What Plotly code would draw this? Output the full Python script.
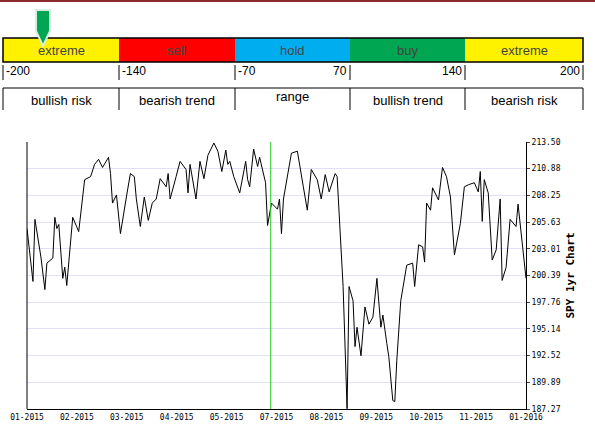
import plotly.graph_objects as go

W, H = 595, 434

# gauge data
zone_edges = [3, 119, 235, 350, 465, 583]
zone_names = ["extreme", "sell", "hold", "buy", "extreme"]
zone_colors = ["#fff200", "#ff0000", "#00aeef", "#00a651", "#fff200"]
scale_labels = ["-200", "-140", "-70", "70", "140", "200"]
meaning_labels = ["bullish risk", "bearish trend", "range", "bullish trend", "bearish risk"]

# SPY price trace (trading day index, close)
day = [0, 3, 4, 7, 9, 10, 13, 14, 15, 16, 18, 19, 20, 21, 22, 23, 26, 29, 32, 34, 36, 38, 41, 42,
       43, 45, 47, 48, 50, 52, 54, 55, 57, 59, 61, 63, 65, 67, 70, 71, 72, 75, 77, 80, 81, 82, 85,
       87, 89, 91, 94, 96, 98, 100, 101, 102, 104, 107, 109, 110, 111, 112, 114, 116, 117, 120,
       121, 123, 126, 127, 128, 129, 133, 136, 139, 141, 143, 146, 148, 150, 152, 155, 156, 157,
       159, 161, 162, 164, 165, 166, 168, 170, 172, 174, 176, 178, 179, 181, 182, 184, 185, 186,
       188, 191, 194, 195, 197, 199, 200, 201, 203, 204, 207, 209, 211, 213, 215, 218, 220, 222,
       225, 227, 228, 229, 230, 232, 234, 236, 238, 239, 241, 243, 246, 247, 249, 251]
close = [205.0, 199.8, 205.9, 202.2, 199.0, 201.6, 202.1, 206.1, 205.0, 205.4, 200.1, 201.2, 199.4,
         201.9, 204.0, 206.1, 204.7, 209.8, 210.1, 211.3, 211.8, 211.0, 212.0, 210.4, 207.5, 208.3,
         204.5, 205.8, 208.1, 210.4, 210.1, 207.9, 205.2, 208.1, 205.8, 207.5, 207.9, 209.9, 209.1,
         210.4, 207.9, 210.1, 211.6, 210.8, 208.5, 211.3, 207.9, 211.6, 209.9, 212.2, 213.4, 212.6,
         210.6, 212.7, 211.3, 211.6, 210.1, 208.5, 210.8, 211.6, 209.8, 209.1, 212.8, 211.1, 212.0,
         209.5, 205.3, 207.5, 206.9, 207.9, 204.5, 207.9, 212.4, 212.6, 209.1, 206.8, 210.8, 209.8,
         207.9, 210.3, 208.6, 210.4, 210.1, 206.2, 199.3, 187.3, 199.3, 197.9, 193.4, 195.3, 192.5,
         197.3, 195.6, 196.3, 200.1, 195.3, 196.5, 193.7, 192.4, 188.1, 188.0, 192.0, 197.9, 201.4,
         201.6, 199.3, 203.4, 203.2, 201.7, 207.5, 206.8, 209.0, 207.8, 211.0, 210.1, 208.1, 202.4,
         205.5, 209.1, 209.3, 209.5, 208.6, 210.6, 205.7, 209.8, 208.5, 201.9, 202.9, 207.9, 199.9,
         201.2, 205.9, 205.2, 207.4, 203.5, 200.1]
month_labels = ["01-2015", "02-2015", "03-2015", "04-2015", "05-2015", "07-2015", "08-2015",
                "09-2015", "10-2015", "11-2015", "01-2016"]
price_ticks = [187.27, 189.89, 192.52, 195.14, 197.76, 200.39, 203.01, 205.63, 208.25, 210.88, 213.50]
marker_day = 122.6


def px(x):
    return x / W


def py(y):
    return 1 - y / H


fig = go.Figure()
fig.add_trace(go.Scatter(x=day, y=close, mode="lines", line=dict(color="black", width=1),
                         hoverinfo="skip"))

shapes = []
annotations = []


def label(x, y, text, size=13, color="black", xanchor="center"):
    annotations.append(dict(xref="paper", yref="paper", x=px(x), y=py(y), text=text, showarrow=False,
                            xanchor=xanchor, yanchor="middle",
                            font=dict(family="Liberation Sans", size=size, color=color)))


# thin dark red strip along the top edge
shapes.append(dict(type="rect", xref="paper", yref="paper", x0=0, x1=1, y0=py(2), y1=1,
                   fillcolor="#8b2a2a", line=dict(width=0)))

# colored gauge band
for i, name in enumerate(zone_names):
    x0, x1 = zone_edges[i], zone_edges[i + 1]
    shapes.append(dict(type="rect", xref="paper", yref="paper", x0=px(x0), x1=px(x1),
                       y0=py(62), y1=py(38), fillcolor=zone_colors[i], line=dict(width=0), layer="below"))
    label((x0 + x1) / 2, 51, name, color="#444")
    label((x0 + x1) / 2, 100 if i != 2 else 97, meaning_labels[i])
shapes.append(dict(type="rect", xref="paper", yref="paper", x0=px(3), x1=px(583), y0=py(62), y1=py(38),
                   line=dict(color="black", width=1.5)))
shapes.append(dict(type="line", xref="paper", yref="paper", x0=px(3), x1=px(583), y0=py(88), y1=py(88),
                   line=dict(color="black", width=1)))
for e in zone_edges:
    shapes.append(dict(type="line", xref="paper", yref="paper", x0=px(e), x1=px(e), y0=py(65), y1=py(80),
                       line=dict(color="black", width=1)))
    shapes.append(dict(type="line", xref="paper", yref="paper", x0=px(e), x1=px(e), y0=py(88), y1=py(110),
                       line=dict(color="black", width=1)))
for i, lab in enumerate(scale_labels):
    left = i < 3
    label(zone_edges[i] + 1 if left else zone_edges[i] - 1, 71, lab, size=12,
          xanchor="left" if left else "right")

# pin marker
pin = "M {} {} L {} {} L {} {} L {} {} L {} {} L {} {} Z".format(
    px(36), py(10), px(50), py(10), px(50), py(31), px(43), py(46), px(36), py(31), px(36), py(10))
shapes.append(dict(type="path", xref="paper", yref="paper", path=pin, fillcolor="#00a651",
                   line=dict(color="#d8eee0", width=2)))

# chart frame left line and marker line
shapes.append(dict(type="line", xref="paper", yref="paper", x0=px(27), x1=px(27), y0=py(409), y1=py(142),
                   line=dict(color="black", width=1)))
shapes.append(dict(type="line", xref="x", yref="y", x0=marker_day, x1=marker_day, y0=187.27, y1=213.5,
                   line=dict(color="#22cc22", width=1)))

fig.update_layout(
    width=W, height=H, margin=dict(l=0, r=0, t=0, b=0, autoexpand=False),
    paper_bgcolor="white", plot_bgcolor="white", showlegend=False,
    shapes=shapes, annotations=annotations,
    xaxis=dict(domain=[px(27), px(526)], range=[0, 251], automargin=False,
               tickvals=[k * 25.1 for k in range(len(month_labels))], ticktext=month_labels,
               showgrid=False, zeroline=False, showline=True, linecolor="black", ticks="",
               tickfont=dict(family="DejaVu Sans Mono", size=8, color="black")),
    yaxis=dict(domain=[py(409), py(142)], range=[187.27, 213.5], side="right", automargin=False,
               tickvals=price_ticks, ticktext=["%.2f" % t for t in price_ticks],
               showgrid=True, gridcolor="#e0e0f8", zeroline=False, showline=True, linecolor="black",
               ticks="outside", ticklen=3, tickfont=dict(family="DejaVu Sans Mono", size=8, color="black"),
               title=dict(text="<b>SPY 1yr Chart</b>", font=dict(family="DejaVu Sans Mono", size=11,
                                                               color="black"),
                          standoff=6)),
)

# page body has a default margin; remove it so the figure fills the window
fig.write_html("out.html", config={"displayModeBar": False},
               post_script="document.body.style.margin='0';")
